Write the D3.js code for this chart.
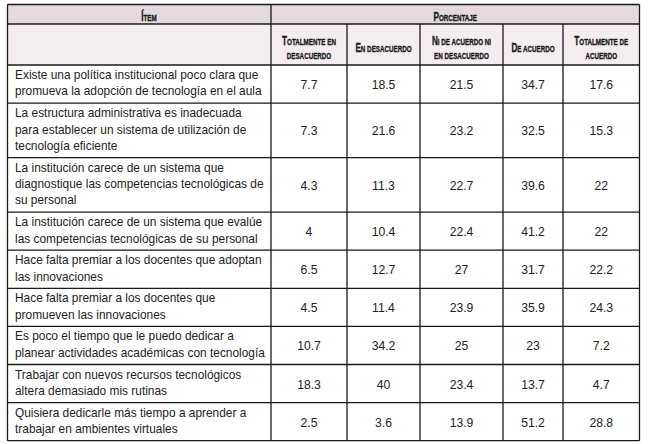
<!DOCTYPE html>
<html><head><meta charset="utf-8">
<script src="https://cdn.jsdelivr.net/npm/d3@7"></script>
<style>
html,body{margin:0;padding:0;background:#fff;}
svg{display:block;}
</style></head>
<body>
<svg id="chart" width="650" height="444"></svg>
<script>
// ---------- data ----------
const itemHeader = "Ítem";
const groupHeader = "Porcentaje";
const columnLabels = [
  ["Totalmente en", "desacuerdo"],
  ["En desacuerdo"],
  ["Ni de acuerdo ni", "en desacuerdo"],
  ["De acuerdo"],
  ["Totalmente de", "acuerdo"]
];
const items = [
  ["Existe una política institucional poco clara que", "promueva la adopción de tecnología en el aula"],
  ["La estructura administrativa es inadecuada", "para establecer un sistema de utilización de", "tecnología eficiente"],
  ["La institución carece de un sistema que", "diagnostique las competencias tecnológicas de", "su personal"],
  ["La institución carece de un sistema que evalúe", "las competencias tecnológicas de su personal"],
  ["Hace falta premiar a los docentes que adoptan", "las innovaciones"],
  ["Hace falta premiar a los docentes que", "promueven las innovaciones"],
  ["Es poco el tiempo que le puedo dedicar a", "planear actividades académicas con tecnología"],
  ["Trabajar con nuevos recursos tecnológicos", "altera demasiado mis rutinas"],
  ["Quisiera dedicarle más tiempo a aprender a", "trabajar en ambientes virtuales"]
];
const totalmenteDesacuerdo = [7.7, 7.3, 4.3, 4, 6.5, 4.5, 10.7, 18.3, 2.5];
const enDesacuerdo        = [18.5, 21.6, 11.3, 10.4, 12.7, 11.4, 34.2, 40, 3.6];
const niAcuerdoNi         = [21.5, 23.2, 22.7, 22.4, 27, 23.9, 25, 23.4, 13.9];
const deAcuerdo           = [34.7, 32.5, 39.6, 41.2, 31.7, 35.9, 23, 13.7, 51.2];
const totalmenteAcuerdo   = [17.6, 15.3, 22, 22, 22.2, 24.3, 7.2, 4.7, 28.8];
const series = [totalmenteDesacuerdo, enDesacuerdo, niAcuerdoNi, deAcuerdo, totalmenteAcuerdo];

// ---------- layout ----------
const colEdges = [7.5, 271, 347, 420, 503, 563, 639.5];
const tableTop = 4.5, h1 = 24, h2 = 65;
const lineH = 16.4, rowPad = 5.3;
const border = "#1a1a1a", textCol = "#222";
const bodyFont = "'Liberation Sans', Arial, sans-serif";
const headFont = "'Liberation Sans', Arial, sans-serif";
const headSquash = 0.68;

const svg = d3.select("#chart");

// row y positions via cumulative heights
const rowHeights = items.map(l => rowPad + lineH * l.length);
const rowTops = [];
rowHeights.reduce((acc, h) => { rowTops.push(acc); return acc + h; }, h2);
const tableBottom = h2 + d3.sum(rowHeights);
const yTop = d3.scaleOrdinal().domain(d3.range(items.length)).range(rowTops);

const colX = d3.scaleOrdinal().domain(d3.range(series.length))
  .range(d3.range(series.length).map(i => (colEdges[i + 1] + colEdges[i + 2]) / 2));

// header backgrounds
svg.append("rect").attr("x", colEdges[0]).attr("y", tableTop)
  .attr("width", colEdges[6] - colEdges[0]).attr("height", h1 - tableTop).attr("fill", "#e3d9de");
svg.append("rect").attr("x", colEdges[0]).attr("y", h1)
  .attr("width", colEdges[6] - colEdges[0]).attr("height", h2 - h1).attr("fill", "#f3edf0");

// small caps helper
function smallCaps(sel, str, big, small) {
  const runs = [];
  for (const ch of str) {
    const isUp = ch !== ch.toLowerCase();
    const s = isUp ? big : small;
    if (runs.length && runs[runs.length - 1].s === s) runs[runs.length - 1].t += ch.toUpperCase();
    else runs.push({ s, t: ch.toUpperCase() });
  }
  runs.forEach(r => sel.append("tspan").attr("font-size", r.s).text(r.t));
}

function headText(x, y, str) {
  const g = svg.append("g").attr("transform", `translate(${x},${y}) scale(${headSquash},1)`);
  const t = g.append("text").attr("x", 0).attr("y", 0)
    .attr("text-anchor", "middle").attr("font-family", headFont)
    .attr("font-weight", "bold").attr("fill", "#1a1a1a")
    .attr("stroke", "#1a1a1a").attr("stroke-width", 0.35);
  smallCaps(t, str, 12, 9.2);
}

headText(149, 20.5, itemHeader);
headText((colEdges[1] + colEdges[6]) / 2, 20.5, groupHeader);

columnLabels.forEach((lines, i) => {
  const cy = (h1 + h2) / 2;
  const startY = lines.length === 1 ? cy + 7 : cy + 0.5;
  lines.forEach((ln, j) => headText(colX(i), startY + j * 13.5, ln));
});

// body: item text
items.forEach((lines, r) => {
  const t = svg.append("text").attr("font-family", bodyFont).attr("font-size", 11.9)
    .attr("fill", textCol);
  lines.forEach((ln, j) => t.append("tspan").attr("x", 15)
    .attr("y", yTop(r) + 14 + j * lineH).text(ln));
});

// body: values
series.forEach((vals, c) => {
  svg.append("g").selectAll("text").data(vals).join("text")
    .attr("x", colX(c))
    .attr("y", (d, r) => yTop(r) + rowHeights[r] / 2 + 5)
    .attr("text-anchor", "middle")
    .attr("font-family", bodyFont).attr("font-size", 12.2)
    .attr("fill", textCol)
    .text(d => d);
});

// grid lines
const hLines = [tableTop, h1, h2, ...rowTops.slice(1), tableBottom];
svg.append("g").selectAll("line").data(hLines).join("line")
  .attr("x1", colEdges[0]).attr("x2", colEdges[6])
  .attr("y1", d => d).attr("y2", d => d)
  .attr("stroke", border).attr("stroke-width", 1.3);

// vertical lines
const vSegs = [
  { x: colEdges[0], y1: tableTop, y2: tableBottom },
  { x: colEdges[1], y1: tableTop, y2: tableBottom },
  { x: colEdges[6], y1: tableTop, y2: tableBottom },
  ...[2, 3, 4, 5].map(i => ({ x: colEdges[i], y1: h1, y2: tableBottom }))
];
svg.append("g").selectAll("line").data(vSegs).join("line")
  .attr("x1", d => d.x).attr("x2", d => d.x)
  .attr("y1", d => d.y1).attr("y2", d => d.y2)
  .attr("stroke", border).attr("stroke-width", 1.3);
</script>
</body></html>
